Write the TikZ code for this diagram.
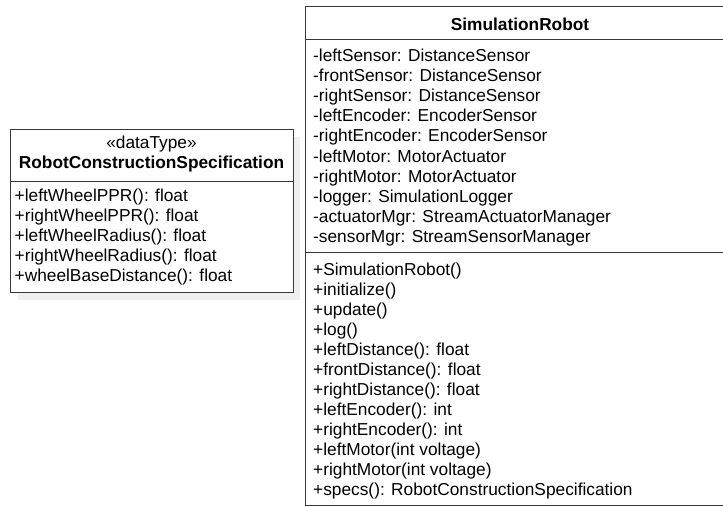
\documentclass[tikz,border=0pt]{standalone}
\usepackage{fontspec}
\setmainfont{Liberation Sans}
\begin{document}
\begin{tikzpicture}[x=1pt,y=-1pt,
  umlline/.style={draw=black!78, line width=1pt},
  member/.style={anchor=base west, inner sep=0pt, font=\fontsize{17.3}{20}\selectfont},
  heading/.style={anchor=base, inner sep=0pt, font=\fontsize{17.3}{20}\selectfont\bfseries},
  stereo/.style={anchor=base, inner sep=0pt, font=\fontsize{17.3}{20}\selectfont}]
\useasboundingbox (0,0) rectangle (723,506);
\fill[white] (0,0) rectangle (723,506);

% RobotConstructionSpecification data type, with its soft shadow
\fill[black!6] (18,137) rectangle (300,300);
\filldraw[umlline, fill=white] (10,129) rectangle (293,292);
\draw[umlline] (10,181) -- (293,181);
\node[stereo] (spec-stereo) at (151.5,148.3) {«dataType»};
\node[heading] (spec-name) at (151.5,168.3) {RobotConstructionSpecification};
\foreach \t [count=\i] in {+leftWheelPPR(): float, +rightWheelPPR(): float,
    +leftWheelRadius(): float, +rightWheelRadius(): float, +wheelBaseDistance(): float}
  \node[member] (spec-op\i) at (14.5,{201+20.15*(\i-1)}) {\t};

% SimulationRobot class
\filldraw[umlline, fill=white] (305,6) rectangle (740,505);
\draw[umlline] (305,39.5) -- (740,39.5);
\draw[umlline] (305,252) -- (740,252);
\node[heading] (robot-name) at (520,30.7) {SimulationRobot};
\foreach \t [count=\i] in {-leftSensor: DistanceSensor, -frontSensor: DistanceSensor,
    -rightSensor: DistanceSensor, -leftEncoder: EncoderSensor, -rightEncoder: EncoderSensor,
    -leftMotor: MotorActuator, -rightMotor: MotorActuator, -logger: SimulationLogger,
    -actuatorMgr: StreamActuatorManager, -sensorMgr: StreamSensorManager}
  \node[member] (robot-attr\i) at (313,{61.7+20.07*(\i-1)}) {\t};
\foreach \t [count=\i] in {+SimulationRobot(), +initialize(), +update(), +log(),
    +leftDistance(): float, +frontDistance(): float, +rightDistance(): float,
    +leftEncoder(): int, +rightEncoder(): int, +leftMotor(int voltage),
    +rightMotor(int voltage), +specs(): RobotConstructionSpecification}
  \node[member] (robot-op\i) at (313,{275.7+19.94*(\i-1)}) {\t};
\end{tikzpicture}
\end{document}
